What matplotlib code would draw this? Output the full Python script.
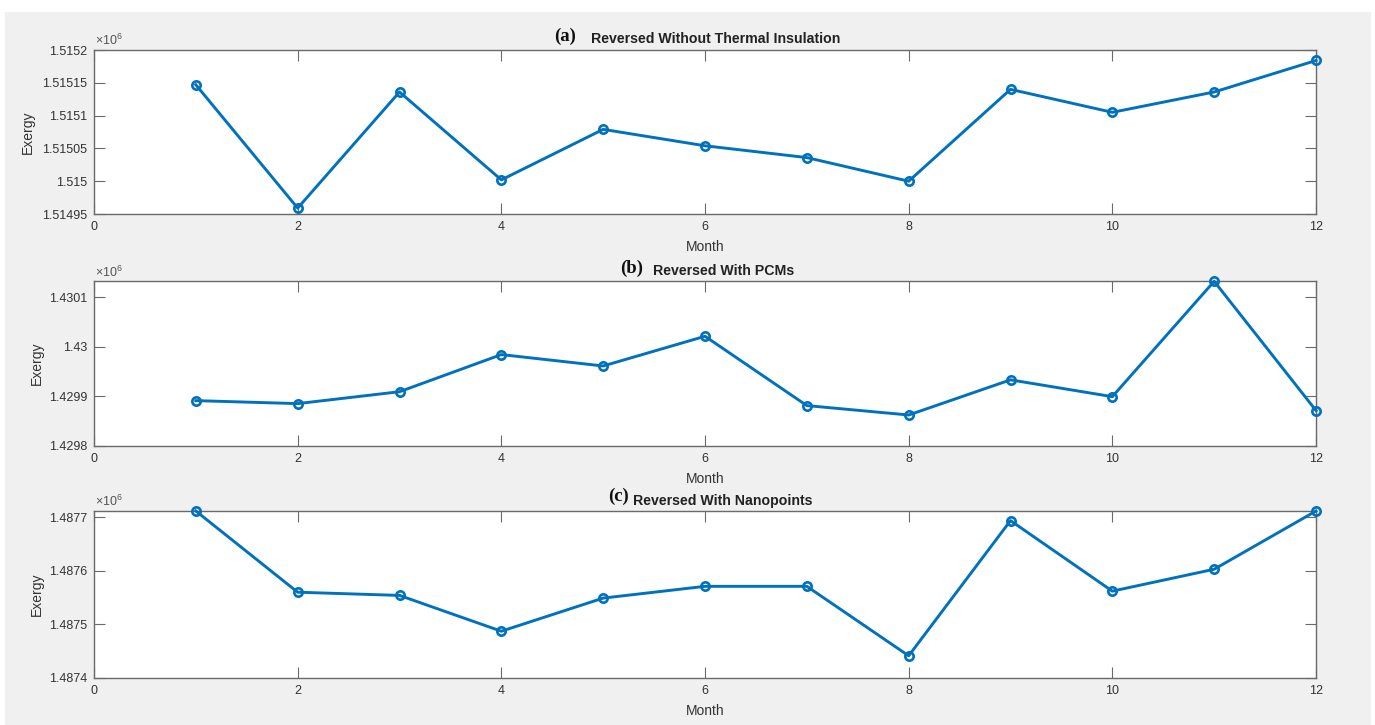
import matplotlib
matplotlib.use("Agg")
import matplotlib.pyplot as plt
import numpy as np

plt.rcParams['font.family'] = ['Liberation Sans', 'DejaVu Sans']
plt.rcParams['mathtext.fontset'] = 'custom'
plt.rcParams['mathtext.rm'] = 'Liberation Sans'

# data
months = [1, 2, 3, 4, 5, 6, 7, 8, 9, 10, 11, 12]
exergy_a = [1515147, 1514959, 1515136, 1515002, 1515079, 1515054,
            1515036, 1515000, 1515140, 1515105, 1515136, 1515184]
exergy_b = [1429891, 1429885, 1429909, 1429984, 1429961, 1430021,
            1429881, 1429862, 1429933, 1429899, 1430132, 1429871]
exergy_c = [1487712, 1487560, 1487554, 1487487, 1487549, 1487571,
            1487571, 1487441, 1487694, 1487562, 1487603, 1487712]

tags = ['(a)', '(b)', '(c)']
titles = ['Reversed Without Thermal Insulation', 'Reversed With PCMs',
          'Reversed With Nanopoints']
yticks_a = [1.51495, 1.515, 1.51505, 1.5151, 1.51515, 1.5152]
yticks_b = [1.4298, 1.4299, 1.43, 1.4301]
yticks_c = [1.4874, 1.4875, 1.4876, 1.4877]

W, H = 1375, 725
fig = plt.figure(figsize=(W / 100, H / 100), dpi=100, facecolor='white')
# gray window area (white strip on top and left like the screenshot)
bg = fig.add_axes([5 / W, 0, 1366 / W, 713 / H], zorder=-10)
bg.set_facecolor('#f0f0f0')
bg.set_xticks([])
bg.set_yticks([])
for s in bg.spines.values():
    s.set_visible(False)

# axes boxes in pixels: (top, bottom)
boxes = [(50, 214), (281.3, 445.7), (511, 677.7)]
left, right = 94, 1316
# title positions: tag left, text left, tag baseline, text baseline
title_pos = [(554, 591, 41, 43), (620, 653, 273, 275), (608, 633, 501, 505)]
# ylabel centre x in pixels
ylab_x = [29, 38, 38]

series = [exergy_a, exergy_b, exergy_c]
yticks_all = [yticks_a, yticks_b, yticks_c]
ylims = [(1.51495, 1.5152), (1.4298, max(exergy_b) / 1e6), (1.4874, max(exergy_c) / 1e6)]

tick_col = '#333333'
spine_col = '#6a6a6a'

for i in range(3):
    top, bot = boxes[i]
    ax = fig.add_axes([left / W, 1 - bot / H, (right - left) / W, (bot - top) / H])
    ax.set_facecolor('white')
    y = np.array(series[i]) / 1e6
    ax.plot(months, y, color='#0072BD', lw=2.1, marker='o', ms=6,
            mfc='none', mew=1.9, clip_on=False, zorder=3)
    ax.set_xlim(0, 12)
    ax.set_ylim(*ylims[i])
    ax.set_xticks(range(0, 13, 2))
    ax.set_yticks(yticks_all[i])
    ax.set_yticklabels(['{:g}'.format(v) for v in yticks_all[i]])
    ax.tick_params(direction='in', length=8, width=0.8, color=spine_col,
                   top=True, right=True, labelsize=9, labelcolor=tick_col, pad=5)
    for s in ax.spines.values():
        s.set_color(spine_col)
        s.set_linewidth(1.0)
    ax.set_xlabel('Month', fontsize=10, color=tick_col, labelpad=5)
    ax.set_ylabel('Exergy', fontsize=10, color=tick_col)
    ax.yaxis.set_label_coords((ylab_x[i] + 6 - left) / (right - left), 0.5)
    ax.text(0.001, 1.01, r'$\times10^{6}$', transform=ax.transAxes, fontsize=9,
            color='#555555', ha='left', va='bottom')

    tl, xl, tb, xb = title_pos[i]
    fig.text(tl / W, 1 - tb / H, tags[i], family='Liberation Serif', weight='bold',
             fontsize=13.5, color='#111111', ha='left', va='baseline')
    fig.text(xl / W, 1 - xb / H, titles[i], weight='bold', fontsize=10.2,
             color='#222222', ha='left', va='baseline')

fig.savefig('out.png', dpi=100, facecolor=fig.get_facecolor())
